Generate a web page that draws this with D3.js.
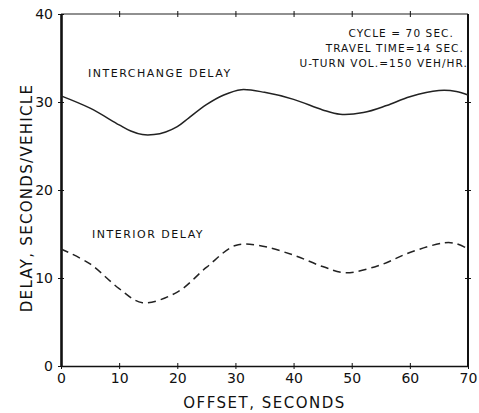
<!DOCTYPE html>
<html>
<head>
<meta charset="utf-8">
<script src="https://cdn.jsdelivr.net/npm/d3@7"></script>
<style>
	body { margin: 0; background: #fff; }
	svg { display: block; }
	text { font-family: "DejaVu Sans", sans-serif; fill: #111; }
	.axis path, .axis line { stroke: #111; }
</style>
</head>
<body>
<div id="chart"></div>
<script>
"use strict";

// Offsets (seconds) and delays (seconds/vehicle)
var interchangeOffset = [0, 5, 10, 12, 14, 16, 18, 20, 22, 25, 28, 31, 35, 40, 45, 48, 52, 56, 60, 65, 68, 70],
	interchangeDelay = [30.7, 29.3, 27.4, 26.7, 26.3, 26.3, 26.6, 27.2, 28.2, 29.7, 30.8, 31.4, 31.1, 30.3, 29.1, 28.6, 28.8, 29.6, 30.6, 31.3, 31.2, 30.8];

var interiorOffset = [0, 5, 10, 14, 20, 25, 30, 34, 40, 45, 49, 55, 60, 66, 68, 70],
	interiorDelay = [13.3, 11.6, 8.8, 7.2, 8.4, 11.2, 13.7, 13.7, 12.6, 11.3, 10.6, 11.5, 12.9, 14.0, 13.9, 13.3];

var xTicks = [0, 10, 20, 30, 40, 50, 60, 70],
	yTicks = [0, 10, 20, 30, 40];

var notes = ["CYCLE = 70 SEC.", "TRAVEL TIME=14 SEC.", "U-TURN VOL.=150 VEH/HR."];

// Graph dimensions
var width = 479,
	height = 413,
	plot = { left: 61, right: 468, top: 14, bottom: 366 };

var x = d3.scaleLinear().domain([0, 70]).range([plot.left, plot.right]),
	y = d3.scaleLinear().domain([0, 40]).range([plot.bottom, plot.top]);

var svg = d3.select("#chart").append("svg")
	.attr("width", width)
	.attr("height", height);

// Frame: top and right edges
svg.append("line")
	.attr("x1", plot.left).attr("x2", plot.right)
	.attr("y1", plot.top).attr("y2", plot.top)
	.attr("stroke", "#222").attr("stroke-width", 1.2);
svg.append("line")
	.attr("x1", plot.right).attr("x2", plot.right)
	.attr("y1", plot.top).attr("y2", plot.bottom)
	.attr("stroke", "#111").attr("stroke-width", 2);

// Crossing ticks helper
function crossTicks(g, horizontal) {
	g.select(".domain").remove();
	g.selectAll(".tick line")
		.attr(horizontal ? "y1" : "x1", -3)
		.attr(horizontal ? "y2" : "x2", 3)
		.attr("stroke-width", 1);
}

// Top and right ticks
svg.append("g")
	.attr("class", "axis")
	.attr("transform", "translate(0," + plot.top + ")")
	.call(d3.axisTop(x).tickValues(xTicks.slice(1, -1)).tickFormat(""))
	.call(function (g) { crossTicks(g, true); });

svg.append("g")
	.attr("class", "axis")
	.attr("transform", "translate(" + plot.right + ",0)")
	.call(d3.axisRight(y).tickValues(yTicks.slice(1, -1)).tickFormat(""))
	.call(function (g) { crossTicks(g, false); });

// Bottom axis
var xAxis = svg.append("g")
	.attr("class", "axis")
	.attr("transform", "translate(0," + plot.bottom + ")")
	.call(d3.axisBottom(x).tickValues(xTicks).tickSize(0).tickPadding(7));
xAxis.select(".domain").attr("stroke-width", 1.6);
xAxis.selectAll(".tick").append("line")
	.attr("y1", -3).attr("y2", 3).attr("stroke", "#111");
xAxis.selectAll(".tick text").attr("font-size", 14).attr("fill", "#111");

// Left axis
var yAxis = svg.append("g")
	.attr("class", "axis")
	.attr("transform", "translate(" + plot.left + ",0)")
	.call(d3.axisLeft(y).tickValues(yTicks).tickSize(0).tickPadding(8));
yAxis.select(".domain").attr("stroke-width", 2.6);
yAxis.selectAll(".tick").append("line")
	.attr("x1", -3).attr("x2", 3).attr("stroke", "#111");
yAxis.selectAll(".tick text").attr("font-size", 14).attr("fill", "#111");

// Axis titles
svg.append("text")
	.attr("x", (plot.left + plot.right) / 2)
	.attr("y", 408)
	.attr("text-anchor", "middle")
	.attr("font-size", 15)
	.attr("letter-spacing", 1.5)
	.text("OFFSET, SECONDS");

svg.append("text")
	.attr("transform", "translate(32,198) rotate(-90)")
	.attr("text-anchor", "middle")
	.attr("font-size", 15)
	.attr("letter-spacing", 1.3)
	.text("DELAY, SECONDS/VEHICLE");

// Curves
var line = d3.line()
	.x(function (d) { return x(d[0]); })
	.y(function (d) { return y(d[1]); })
	.curve(d3.curveCatmullRom.alpha(0.5));

svg.append("path")
	.datum(d3.zip(interchangeOffset, interchangeDelay))
	.attr("d", line)
	.attr("fill", "none")
	.attr("stroke", "#222")
	.attr("stroke-width", 1.5);

svg.append("path")
	.datum(d3.zip(interiorOffset, interiorDelay))
	.attr("d", line)
	.attr("fill", "none")
	.attr("stroke", "#222")
	.attr("stroke-width", 1.5)
	.attr("stroke-dasharray", "8,5");

// Curve labels
svg.append("text")
	.attr("x", 88).attr("y", 77)
	.attr("font-size", 11)
	.attr("letter-spacing", 1.5)
	.text("INTERCHANGE DELAY");

svg.append("text")
	.attr("x", 92).attr("y", 238)
	.attr("font-size", 11)
	.attr("letter-spacing", 1.5)
	.text("INTERIOR DELAY");

// Conditions note
svg.selectAll(".note")
	.data(notes)
	.enter().append("text")
	.attr("class", "note")
	.attr("text-anchor", "end")
	.attr("x", function (d, i) { return [454, 464, 468][i]; })
	.attr("y", function (d, i) { return 37 + i * 15; })
	.attr("font-size", 10.5)
	.attr("letter-spacing", 1.1)
	.text(function (d) { return d; });
</script>
</body>
</html>
